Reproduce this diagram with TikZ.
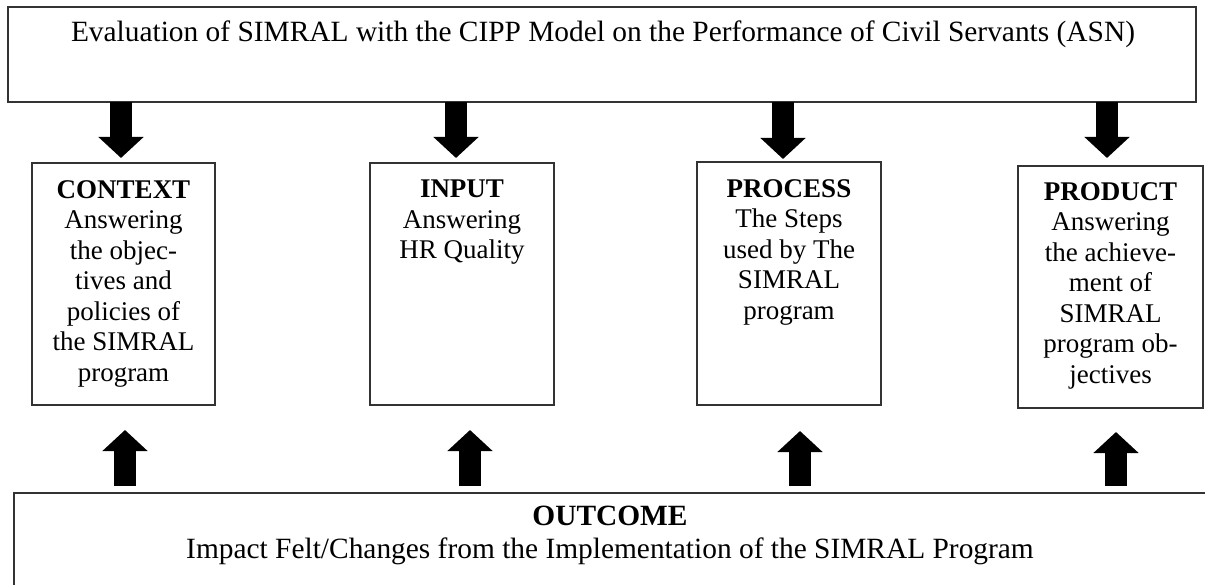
\documentclass[tikz,border=0pt]{standalone}
\usepackage{fontspec}
\setmainfont{Liberation Serif}
\usetikzlibrary{arrows.meta,calc}
\begin{document}
\begin{tikzpicture}[x=1bp,y=-1bp,
  frame/.style={draw=black!80,line width=1.3bp,inner sep=0pt,outer sep=0pt},
  boxtext/.style={anchor=north,inner sep=0pt,align=center,font=\fontsize{27bp}{30.5bp}\selectfont},
  bigtext/.style={inner sep=0pt,align=center,font=\fontsize{29.4bp}{33bp}\selectfont},
  blk/.style={line width=22bp,-{Triangle[length=21bp,width=44bp]}}]
\clip (0,0) rectangle (1205,585);

% evaluation frame at the top
\node[frame,minimum width=1188bp,minimum height=95bp] (top) at (602,54.5) {};
\node[bigtext,anchor=base] (title) at (603,42)
  {Evaluation of SIMRAL with the CIPP Model on the Performance of Civil Servants (ASN)};

% the four CIPP components
\node[frame,minimum width=183bp,minimum height=242bp] (ctx) at (123.5,284) {};
\node[frame,minimum width=184bp,minimum height=242bp] (inp) at (462,284) {};
\node[frame,minimum width=184bp,minimum height=243bp] (proc) at (789,283.5) {};
\node[frame,minimum width=185bp,minimum height=242bp] (prod) at (1110.5,287) {};

\node[boxtext] (ctxT) at (123.5,180) {\textbf{CONTEXT}\\Answering\\the objec-\\tives and\\policies of\\the SIMRAL\\program};
\node[boxtext] (inpT) at (462,180) {\textbf{INPUT}\\Answering\\HR Quality};
\node[boxtext] (procT) at (789,179) {\textbf{PROCESS}\\The Steps\\used by The\\SIMRAL\\program};
\node[boxtext] (prodT) at (1110.5,182) {\textbf{PRODUCT}\\Answering\\the achieve-\\ment of\\SIMRAL\\program ob-\\jectives};

% outcome frame at the bottom (runs past the page edge)
\node[frame,minimum width=1196bp,minimum height=107bp] (outcome) at (612,546.5) {};
\node[bigtext,anchor=north] (outT) at (610,505.5) {\textbf{OUTCOME}\\Impact Felt/Changes from the Implementation of the SIMRAL Program};

% arrow columns
\coordinate (a1) at (121,0);
\coordinate (a2) at (456,0);
\coordinate (a3) at (783,0);
\coordinate (a4) at (1107,0);
\coordinate (b1) at (125,0);
\coordinate (b2) at (470,0);
\coordinate (b3) at (800,0);
\coordinate (b4) at (1116,0);

% downward arrows
\draw[blk] (top.south -| a1) -- ($(ctx.north -| a1)+(0,-5)$);
\draw[blk] (top.south -| a2) -- ($(inp.north -| a2)+(0,-5)$);
\draw[blk] (top.south -| a3) -- ($(proc.north -| a3)+(0,-3)$);
\draw[blk] (top.south -| a4) -- ($(prod.north -| a4)+(0,-8)$);

% upward arrows
\draw[blk] ($(outcome.north -| b1)+(0,-7)$) -- ($(ctx.south -| b1)+(0,25)$);
\draw[blk] ($(outcome.north -| b2)+(0,-7)$) -- ($(inp.south -| b2)+(0,25)$);
\draw[blk] ($(outcome.north -| b3)+(0,-7)$) -- ($(proc.south -| b3)+(0,26)$);
\draw[blk] ($(outcome.north -| b4)+(0,-7)$) -- ($(prod.south -| b4)+(0,24)$);
\end{tikzpicture}
\end{document}
